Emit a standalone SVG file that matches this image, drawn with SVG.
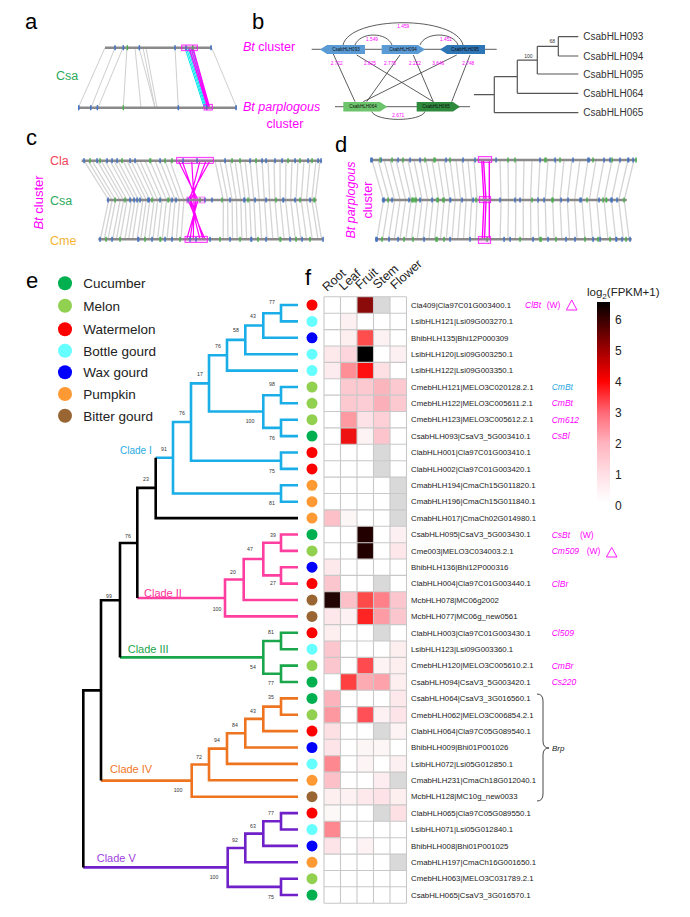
<svg xmlns="http://www.w3.org/2000/svg" width="690" height="917" viewBox="0 0 690 917">
<style>
text{font-family:"Liberation Sans",Arial,sans-serif}
.pl{font-size:22px;fill:#000}
.bar{stroke:#8a8a8a;stroke-width:2.6;fill:none}
.g{stroke:#c9c9c9;stroke-width:1.3;fill:none;opacity:.8}
.mg{stroke:#ff00ff;stroke-width:1.2;fill:none}
.box{stroke:#ff00ff;stroke-width:.8;fill:#ff00ff;fill-opacity:.12}
.tb{fill:#4472c4}
.tg{fill:#4caf50}
.bl{stroke:#333;stroke-width:.8;fill:none}
.num{font-size:4.8px;fill:#ff00ff;text-anchor:middle}
.gl{font-size:4.6px;fill:#111;text-anchor:middle}
.st{stroke:#555;stroke-width:1.2;fill:none}
.tl{font-size:10px;fill:#333}
.mag{fill:#ff00ff}
.cu{fill:#00b050}.me{fill:#92d050}.wa{fill:#ff0000}.bo{fill:#66ffff}.wx{fill:#0000ff}.pu{fill:#ff9933}.bi{fill:#996633}
.lg{font-size:13.5px;fill:#222}
.c1{stroke:#1aaee8}.c2{stroke:#ff3fa0}.c3{stroke:#1aa64a}.c4{stroke:#ee7420}.c5{stroke:#7020c8}.c0{stroke:#000}
.tr path{fill:none;stroke-width:2.6}
.bs{font-size:5.2px;fill:#333;text-anchor:middle}
.cl{font-size:11px}
.gn{font-size:7.8px;fill:#222}
.an{font-size:8.5px;fill:#ff00ff}
.hd{font-size:12.5px;fill:#222}
.cb{font-size:12px;fill:#222}
</style>
<defs>
<linearGradient id="cbar" x1="0" y1="0" x2="0" y2="1">
<stop offset="0" stop-color="#000000"/>
<stop offset="0.24" stop-color="#a00000"/>
<stop offset="0.395" stop-color="#ff0000"/>
<stop offset="0.555" stop-color="#ff6a78"/>
<stop offset="0.705" stop-color="#ffb3be"/>
<stop offset="0.865" stop-color="#ffe0e6"/>
<stop offset="1" stop-color="#ffffff"/>
</linearGradient>
</defs>
<rect width="690" height="917" fill="#fff"/>

<!-- panel labels -->
<g id="panel-letters">
<text class="pl" x="25" y="29">a</text>
<text class="pl" x="252" y="29">b</text>
<text class="pl" x="26" y="145">c</text>
<text class="pl" x="335" y="152">d</text>
<text class="pl" x="26" y="288">e</text>
<text class="pl" x="305" y="285">f</text>
</g>

<!-- panel a -->
<g id="panel-a">
<g class="g" style="stroke-width:1;opacity:.9">
<path d="M105 47.7L78.3 107.7M115 47.7L91 107.7M123 47.7L98 107.7M127 47.7L123.3 107.7M135 47.7L141 107.7M139 47.7L155 107.7M143 47.7L155 107.7M146 47.7L157 107.7M175 47.7L178.3 107.7M211.7 47.7L236.7 107.7"/>
</g>
<g style="stroke:#00e5ee;stroke-width:1;fill:none">
<path d="M185 48L204 107M186.5 48L205 107M188 48L206 107M189.5 48L207 107M191 48L208 107M192.5 48L208.5 107"/>
</g>
<path class="mg" d="M189 48L207.5 107M191 48L208.5 107M193 48L209.5 107"/>
<line class="bar" x1="105" y1="47.7" x2="211.7" y2="47.7"/>
<line class="bar" x1="78.3" y1="107.7" x2="236.7" y2="107.7"/>
<g class="tb">
<rect x="114.3" y="45.2" width="1.5" height="5"/><rect x="122.6" y="45.2" width="1.5" height="5"/><rect x="138.6" y="45.2" width="1.5" height="5"/><rect x="174.3" y="45.2" width="1.5" height="5"/><rect x="185.3" y="45.2" width="1.5" height="5"/><rect x="210.3" y="45.2" width="1.5" height="5"/>
<rect x="78" y="105.2" width="1.5" height="5"/><rect x="90" y="105.2" width="1.5" height="5"/><rect x="96.6" y="105.2" width="1.5" height="5"/><rect x="177.6" y="105.2" width="1.5" height="5"/><rect x="206" y="105.2" width="1.5" height="5"/><rect x="235.3" y="105.2" width="1.5" height="5"/>
</g>
<g class="tg">
<rect x="126.6" y="45.2" width="1.5" height="5"/><rect x="192" y="45.2" width="1.5" height="5"/><rect x="122.6" y="105.2" width="1.5" height="5"/>
</g>
<rect class="box" x="181.7" y="45" width="15.6" height="5.7"/>
<rect class="box" x="204" y="104.3" width="8.3" height="5.7"/>
<text x="56" y="80" style="font-size:12.5px;fill:#2eaa5e">Csa</text>
</g>

<!-- panel b -->
<g id="panel-b">
<text x="243" y="51" style="font-size:12.5px" class="mag"><tspan font-style="italic">Bt</tspan> cluster</text>
<text x="243" y="111" style="font-size:12.5px" class="mag"><tspan font-style="italic">Bt parplogous</tspan></text>
<text x="285" y="128" style="font-size:12.5px;text-anchor:middle" class="mag">cluster</text>
<line class="bl" x1="311.7" y1="49.3" x2="496.7" y2="49.3"/>
<line class="bl" x1="335" y1="106.7" x2="470" y2="106.7"/>
<path class="bl" d="M343 45C350 15.3 456 15.3 463 45"/>
<path class="bl" d="M355 45C360 31.7 387 31.7 392 45"/>
<path class="bl" d="M420 45C425 31.7 453 31.7 458 45"/>
<path class="bl" d="M371.7 111.5C376 122 421 122 425 111.5"/>
<path class="bl" d="M333.3 54L355 101.7M356.7 55L433.3 101.7M400 55L366.7 101.7M413.3 55L433.3 101.7M456.7 55L363.3 101.7M470 55L451.7 101.7"/>
<g id="gene-b1"><polygon points="320,49.5 327,45 365,45 365,54 327,54" fill="#5b9bd5"/><text class="gl" x="346" y="51.1">CsabHLH093</text></g>
<g id="gene-b2"><polygon points="381.7,45 418,45 425,49.5 418,54 381.7,54" fill="#5b9bd5"/><text class="gl" x="403" y="51.1">CsabHLH094</text></g>
<g id="gene-b3"><polygon points="440,49.5 447,45 485,45 485,54 447,54" fill="#2e75b6"/><text class="gl" x="465" y="51.1">CsabHLH095</text></g>
<g id="gene-b4"><polygon points="343.3,102 380,102 387.3,106.7 380,111.5 343.3,111.5" fill="#6cc46c"/><text class="gl" x="363" y="108.3">CsabHLH064</text></g>
<g id="gene-b5"><polygon points="416.7,102 453,102 460,106.7 453,111.5 416.7,111.5" fill="#2e8b3e"/><text class="gl" x="436" y="108.3">CsabHLH065</text></g>
<text class="num" x="403.3" y="28">1.459</text>
<text class="num" x="372" y="40.5">1.549</text>
<text class="num" x="446" y="40.5">1.451</text>
<text class="num" x="398.3" y="117">2.671</text>
<text class="num" x="336.7" y="64.5">2.722</text>
<text class="num" x="370" y="64.5">2.825</text>
<text class="num" x="390" y="64.5">2.775</text>
<text class="num" x="415" y="64.5">2.222</text>
<text class="num" x="438.3" y="64.5">3.646</text>
<text class="num" x="468.3" y="64.5">2.748</text>
<path class="st" d="M558.3 36.7H578.3M558.3 56H578.3M558.3 36.7V56M537.3 46.3H558.3M537.3 74H578.3M537.3 46.3V74M517.3 60.2H537.3M517.3 93.3H578.3M517.3 60.2V93.3M494.3 76.7H517.3M494.3 112.7H578.3M494.3 76.7V112.7M474 94.7H494.3"/>
<text class="bs" x="552.3" y="42.5" style="font-size:5px">68</text>
<text class="bs" x="528.3" y="57.5" style="font-size:5px">100</text>
<text class="tl" x="583.3" y="40.2">CsabHLH093</text>
<text class="tl" x="583.3" y="59.5">CsabHLH094</text>
<text class="tl" x="583.3" y="77.5">CsabHLH095</text>
<text class="tl" x="583.3" y="96.8">CsabHLH064</text>
<text class="tl" x="583.3" y="116.2">CsabHLH065</text>
</g>

<!-- panel c -->
<g id="panel-c">
<text x="50" y="164.5" style="font-size:12.5px;fill:#f0445a">Cla</text>
<text x="50" y="205" style="font-size:12.5px;fill:#2eaa5e">Csa</text>
<text x="50" y="245" style="font-size:12.5px;fill:#f5b335">Cme</text>
<text transform="translate(42.5,202.5) rotate(-90)" style="font-size:13px;text-anchor:middle" class="mag"><tspan font-style="italic">Bt</tspan> cluster</text>
<path class="g" d="M84 160.7L108.7 200L100.4 239.3M88 160.7L112.2 200L104.2 239.3M92 160.7L115.7 200L107.9 239.3M97 160.7L120.1 200L112.7 239.3M101 160.7L123.6 200L116.4 239.3M105 160.7L127.1 200L120.1 239.3M110 160.7L131.5 200L124.9 239.3M114 160.7L135 200L128.6 239.3M118 160.7L138.5 200L132.4 239.3M123 160.7L142.9 200L137.1 239.3M127 160.7L146.3 200L140.7 239.3M131 160.7L149.8 200L144.5 239.3M136 160.7L154.1 200L149 239.3M140 160.7L157.7 200L152.9 239.3M145 160.7L162.1 200L157.6 239.3M150 160.7L166.5 200L162.3 239.3M155 160.7L170.9 200L167 239.3M160 160.7L175.2 200L171.7 239.3M165 160.7L179.6 200L176.4 239.3M170 160.7L183.9 200L181 239.3M215 160.7L223.3 200L223.2 239.3M220 160.7L227.7 200L227.9 239.3M225 160.7L232.1 200L232.6 239.3M230 160.7L236.4 200L237.2 239.3M235 160.7L240.8 200L241.9 239.3M240 160.7L245.2 200L246.6 239.3M245 160.7L249.6 200L251.3 239.3M250 160.7L253.9 200L255.9 239.3M256 160.7L259.2 200L261.6 239.3M262 160.7L264.4 200L267.2 239.3M268 160.7L269.7 200L272.9 239.3M274 160.7L274.9 200L278.4 239.3M280 160.7L280.2 200L284.1 239.3M286 160.7L285.5 200L289.8 239.3M292 160.7L290.7 200L295.4 239.3M298 160.7L296 200L301 239.3M304 160.7L301.2 200L306.6 239.3M310 160.7L306.5 200L312.3 239.3M316 160.7L311.8 200L318 239.3M320 160.7L315.2 200L321.6 239.3"/>
<path class="mg" d="M178.3 160.7L198 200L186.7 239.3M191.7 160.7L194 200L193.3 239.3M200 160.7L190 200L200 239.3M210 160.7L188 200L205 239.3M182 160.7L196 200L190 239.3M206 160.7L191 200L203 239.3"/>
<line class="bar" x1="81.7" y1="160.7" x2="321.7" y2="160.7"/>
<line class="bar" x1="106.7" y1="200" x2="316.7" y2="200"/>
<line class="bar" x1="98.3" y1="239.3" x2="323.3" y2="239.3"/>
<g class="tb">
<rect x="83.3" y="158.2" width="1.5" height="5"/><rect x="96.3" y="158.2" width="1.5" height="5"/><rect x="106.3" y="158.2" width="1.5" height="5"/><rect x="111.3" y="158.2" width="1.5" height="5"/><rect x="116.3" y="158.2" width="1.5" height="5"/><rect x="129.3" y="158.2" width="1.5" height="5"/><rect x="134.3" y="158.2" width="1.5" height="5"/><rect x="159.3" y="158.2" width="1.5" height="5"/><rect x="182.3" y="158.2" width="1.5" height="5"/><rect x="196.3" y="158.2" width="1.5" height="5"/><rect x="224.3" y="158.2" width="1.5" height="5"/><rect x="249.3" y="158.2" width="1.5" height="5"/><rect x="261.3" y="158.2" width="1.5" height="5"/><rect x="265.3" y="158.2" width="1.5" height="5"/><rect x="274.3" y="158.2" width="1.5" height="5"/><rect x="281.3" y="158.2" width="1.5" height="5"/><rect x="294.3" y="158.2" width="1.5" height="5"/><rect x="307.3" y="158.2" width="1.5" height="5"/><rect x="317.3" y="158.2" width="1.5" height="5"/><rect x="320.3" y="158.2" width="1.5" height="5"/>
<rect x="107.3" y="197.5" width="1.5" height="5"/><rect x="129.3" y="197.5" width="1.5" height="5"/><rect x="133.3" y="197.5" width="1.5" height="5"/><rect x="136.3" y="197.5" width="1.5" height="5"/><rect x="139.3" y="197.5" width="1.5" height="5"/><rect x="147.3" y="197.5" width="2.5" height="5"/><rect x="159.3" y="197.5" width="1.5" height="5"/><rect x="171.3" y="197.5" width="1.5" height="5"/><rect x="175.3" y="197.5" width="1.5" height="5"/><rect x="187.3" y="197.5" width="1.5" height="5"/><rect x="204.3" y="197.5" width="1.5" height="5"/><rect x="211.3" y="197.5" width="1.5" height="5"/><rect x="229.3" y="197.5" width="1.5" height="5"/><rect x="243.3" y="197.5" width="2" height="5"/><rect x="254.3" y="197.5" width="1.5" height="5"/><rect x="265.3" y="197.5" width="1.5" height="5"/><rect x="282.3" y="197.5" width="2" height="5"/><rect x="294.3" y="197.5" width="1.5" height="5"/><rect x="309.3" y="197.5" width="1.5" height="5"/>
<rect x="99.3" y="236.8" width="1.5" height="5"/><rect x="111.3" y="236.8" width="1.5" height="5"/><rect x="137.3" y="236.8" width="2" height="5"/><rect x="151.3" y="236.8" width="1.5" height="5"/><rect x="164.3" y="236.8" width="1.5" height="5"/><rect x="171.3" y="236.8" width="1.5" height="5"/><rect x="189.3" y="236.8" width="1.5" height="5"/><rect x="195.3" y="236.8" width="1.5" height="5"/><rect x="209.3" y="236.8" width="1.5" height="5"/><rect x="229.3" y="236.8" width="1.5" height="5"/><rect x="250.3" y="236.8" width="2" height="5"/><rect x="265.3" y="236.8" width="1.5" height="5"/><rect x="289.3" y="236.8" width="1.5" height="5"/><rect x="301.3" y="236.8" width="1.5" height="5"/><rect x="322.3" y="236.8" width="1.5" height="5"/>
</g>
<g class="tg">
<rect x="89.3" y="158.2" width="1.5" height="5"/><rect x="99.3" y="158.2" width="1.5" height="5"/><rect x="121.3" y="158.2" width="1.5" height="5"/><rect x="149.3" y="158.2" width="2" height="5"/><rect x="164.3" y="158.2" width="1.5" height="5"/><rect x="171.3" y="158.2" width="1.5" height="5"/><rect x="231.3" y="158.2" width="1.5" height="5"/><rect x="239.3" y="158.2" width="1.5" height="5"/><rect x="255.3" y="158.2" width="1.5" height="5"/><rect x="287.3" y="158.2" width="1.5" height="5"/><rect x="299.3" y="158.2" width="1.5" height="5"/><rect x="311.3" y="158.2" width="1.5" height="5"/>
<rect x="114.3" y="197.5" width="1.5" height="5"/><rect x="124.3" y="197.5" width="1.5" height="5"/><rect x="151.3" y="197.5" width="1.5" height="5"/><rect x="167.3" y="197.5" width="2" height="5"/><rect x="199.3" y="197.5" width="1.5" height="5"/><rect x="221.3" y="197.5" width="1.5" height="5"/><rect x="247.3" y="197.5" width="1.5" height="5"/><rect x="275.3" y="197.5" width="1.5" height="5"/><rect x="299.3" y="197.5" width="1.5" height="5"/><rect x="313.3" y="197.5" width="2" height="5"/>
<rect x="105.3" y="236.8" width="1.5" height="5"/><rect x="119.3" y="236.8" width="1.5" height="5"/><rect x="144.3" y="236.8" width="1.5" height="5"/><rect x="159.3" y="236.8" width="2" height="5"/><rect x="179.3" y="236.8" width="1.5" height="5"/><rect x="219.3" y="236.8" width="1.5" height="5"/><rect x="239.3" y="236.8" width="1.5" height="5"/><rect x="257.3" y="236.8" width="1.5" height="5"/><rect x="279.3" y="236.8" width="2" height="5"/><rect x="295.3" y="236.8" width="1.5" height="5"/><rect x="309.3" y="236.8" width="1.5" height="5"/>
</g>
<rect class="box" x="176.7" y="157.3" width="36.6" height="6"/>
<rect class="box" x="186.7" y="197" width="18" height="6" style="stroke-opacity:.5"/>
<rect class="box" x="185" y="236.3" width="22.3" height="6"/>
</g>

<!-- panel d -->
<g id="panel-d">
<text transform="translate(355,200) rotate(-90)" style="font-size:12.5px;text-anchor:middle" class="mag"><tspan font-style="italic">Bt parplogous</tspan></text>
<text transform="translate(371.5,200) rotate(-90)" style="font-size:12.5px;text-anchor:middle" class="mag">cluster</text>
<path class="g" d="M372 160L383.5 200L376.9 239.3M378 160L389 200L382.6 239.3M384 160L394.6 200L388.5 239.3M390 160L400.1 200L394.3 239.3M396 160L405.6 200L400 239.3M402 160L411.1 200L405.8 239.3M408 160L416.6 200L411.6 239.3M414 160L422.1 200L417.3 239.3M420 160L427.6 200L423.1 239.3M426 160L433.1 200L428.9 239.3M432 160L438.7 200L434.7 239.3M438 160L444.2 200L440.5 239.3M444 160L449.7 200L446.3 239.3M450 160L455.2 200L452 239.3M456 160L460.7 200L457.8 239.3M462 160L466.2 200L463.5 239.3M468 160L471.7 200L469.3 239.3M474 160L477.2 200L475.1 239.3M500 160L501.1 200L500.1 239.3M508 160L508.5 200L507.9 239.3M516 160L515.8 200L515.5 239.3M524 160L523.2 200L523.3 239.3M532 160L530.5 200L530.9 239.3M540 160L537.9 200L538.7 239.3M548 160L545.2 200L546.3 239.3M556 160L552.6 200L554.1 239.3M564 160L560 200L561.8 239.3M572 160L567.3 200L569.5 239.3M580 160L574.6 200L577.1 239.3M588 160L582 200L584.9 239.3M596 160L589.3 200L592.5 239.3M604 160L596.7 200L600.3 239.3M612 160L604 200L607.9 239.3M620 160L611.4 200L615.7 239.3M628 160L618.7 200L623.3 239.3M634 160L624.2 200L629.1 239.3"/>
<path class="mg" style="stroke-width:1.4" d="M481.7 160L484 200L482.3 239.3M489.3 160L489.3 200L489.3 239.3M483.5 160L486 200L484.5 239.3"/>
<line class="bar" x1="370" y1="160" x2="636.7" y2="160"/>
<line class="bar" x1="381.7" y1="200" x2="626.7" y2="200"/>
<line class="bar" x1="375" y1="239.3" x2="631.7" y2="239.3"/>
<g class="tb">
<rect x="370.3" y="157.5" width="2.5" height="5"/><rect x="380.3" y="157.5" width="1.5" height="5"/><rect x="397.3" y="157.5" width="1.5" height="5"/><rect x="409.3" y="157.5" width="1.5" height="5"/><rect x="419.3" y="157.5" width="1.5" height="5"/><rect x="445.3" y="157.5" width="1.5" height="5"/><rect x="462.3" y="157.5" width="1.5" height="5"/><rect x="474.3" y="157.5" width="1.5" height="5"/><rect x="495.3" y="157.5" width="1.5" height="5"/><rect x="539.3" y="157.5" width="1.5" height="5"/><rect x="554.3" y="157.5" width="1.5" height="5"/><rect x="572.3" y="157.5" width="1.5" height="5"/><rect x="587.3" y="157.5" width="2.5" height="5"/><rect x="603.3" y="157.5" width="1.5" height="5"/><rect x="609.3" y="157.5" width="1.5" height="5"/><rect x="619.3" y="157.5" width="1.5" height="5"/><rect x="627.3" y="157.5" width="2" height="5"/><rect x="632.3" y="157.5" width="1.5" height="5"/>
<rect x="382.3" y="197.5" width="2.5" height="5"/><rect x="391.3" y="197.5" width="1.5" height="5"/><rect x="408.3" y="197.5" width="1.5" height="5"/><rect x="419.3" y="197.5" width="1.5" height="5"/><rect x="431.3" y="197.5" width="1.5" height="5"/><rect x="449.3" y="197.5" width="2" height="5"/><rect x="461.3" y="197.5" width="1.5" height="5"/><rect x="472.3" y="197.5" width="1.5" height="5"/><rect x="499.3" y="197.5" width="1.5" height="5"/><rect x="514.3" y="197.5" width="1.5" height="5"/><rect x="519.3" y="197.5" width="1.5" height="5"/><rect x="537.3" y="197.5" width="1.5" height="5"/><rect x="543.3" y="197.5" width="1.5" height="5"/><rect x="560.3" y="197.5" width="1.5" height="5"/><rect x="567.3" y="197.5" width="1.5" height="5"/><rect x="579.3" y="197.5" width="2.5" height="5"/><rect x="598.3" y="197.5" width="1.5" height="5"/><rect x="610.3" y="197.5" width="2.5" height="5"/><rect x="616.3" y="197.5" width="1.5" height="5"/>
<rect x="375.3" y="236.8" width="2.5" height="5"/><rect x="388.3" y="236.8" width="1.5" height="5"/><rect x="397.3" y="236.8" width="1.5" height="5"/><rect x="423.3" y="236.8" width="1.5" height="5"/><rect x="449.3" y="236.8" width="1.5" height="5"/><rect x="469.3" y="236.8" width="1.5" height="5"/><rect x="503.3" y="236.8" width="1.5" height="5"/><rect x="509.3" y="236.8" width="1.5" height="5"/><rect x="532.3" y="236.8" width="1.5" height="5"/><rect x="547.3" y="236.8" width="1.5" height="5"/><rect x="565.3" y="236.8" width="1.5" height="5"/><rect x="574.3" y="236.8" width="1.5" height="5"/><rect x="592.3" y="236.8" width="1.5" height="5"/><rect x="599.3" y="236.8" width="1.5" height="5"/><rect x="615.3" y="236.8" width="2" height="5"/><rect x="621.3" y="236.8" width="1.5" height="5"/><rect x="629.3" y="236.8" width="1.5" height="5"/>
</g>
<g class="tg">
<rect x="379.3" y="157.5" width="1.5" height="5"/><rect x="391.3" y="157.5" width="1.5" height="5"/><rect x="402.3" y="157.5" width="1.5" height="5"/><rect x="424.3" y="157.5" width="1.5" height="5"/><rect x="433.3" y="157.5" width="2.5" height="5"/><rect x="449.3" y="157.5" width="1.5" height="5"/><rect x="507.3" y="157.5" width="1.5" height="5"/><rect x="514.3" y="157.5" width="1.5" height="5"/><rect x="544.3" y="157.5" width="2.5" height="5"/><rect x="559.3" y="157.5" width="1.5" height="5"/><rect x="592.3" y="157.5" width="1.5" height="5"/><rect x="611.3" y="157.5" width="1.5" height="5"/><rect x="635.3" y="157.5" width="1.5" height="5"/>
<rect x="387.3" y="197.5" width="1.5" height="5"/><rect x="411.3" y="197.5" width="2.5" height="5"/><rect x="414.3" y="197.5" width="2.5" height="5"/><rect x="436.3" y="197.5" width="2.5" height="5"/><rect x="442.3" y="197.5" width="2.5" height="5"/><rect x="475.3" y="197.5" width="1.5" height="5"/><rect x="531.3" y="197.5" width="1.5" height="5"/><rect x="551.3" y="197.5" width="2.5" height="5"/><rect x="586.3" y="197.5" width="1.5" height="5"/><rect x="602.3" y="197.5" width="1.5" height="5"/><rect x="605.3" y="197.5" width="2" height="5"/><rect x="623.3" y="197.5" width="1.5" height="5"/>
<rect x="381.3" y="236.8" width="1.5" height="5"/><rect x="403.3" y="236.8" width="1.5" height="5"/><rect x="412.3" y="236.8" width="1.5" height="5"/><rect x="435.3" y="236.8" width="2.5" height="5"/><rect x="443.3" y="236.8" width="1.5" height="5"/><rect x="486.3" y="236.8" width="1.5" height="5"/><rect x="519.3" y="236.8" width="1.5" height="5"/><rect x="539.3" y="236.8" width="2.5" height="5"/><rect x="555.3" y="236.8" width="1.5" height="5"/><rect x="584.3" y="236.8" width="1.5" height="5"/><rect x="597.3" y="236.8" width="1.5" height="5"/><rect x="609.3" y="236.8" width="1.5" height="5"/><rect x="625.3" y="236.8" width="1.5" height="5"/>
</g>
<rect class="box" x="478.3" y="156.7" width="13.4" height="5.6"/>
<rect class="box" x="479.3" y="196.7" width="11.4" height="6"/>
<rect class="box" x="478.3" y="236.7" width="12.4" height="6.6"/>
</g>

<!-- panel e legend -->
<g id="legend">
<circle class="cu" cx="65" cy="283.3" r="7"/><text class="lg" x="83.3" y="288.3">Cucumber</text>
<circle class="me" cx="65" cy="305.7" r="7"/><text class="lg" x="83.3" y="310.7">Melon</text>
<circle class="wa" cx="65" cy="329.3" r="7"/><text class="lg" x="83.3" y="334.3">Watermelon</text>
<circle class="bo" cx="65" cy="350.7" r="7"/><text class="lg" x="83.3" y="355.7">Bottle gourd</text>
<circle class="wx" cx="65" cy="372.3" r="7"/><text class="lg" x="83.3" y="377.3">Wax gourd</text>
<circle class="pu" cx="65" cy="394" r="7"/><text class="lg" x="83.3" y="399">Pumpkin</text>
<circle class="bi" cx="65" cy="415.7" r="7"/><text class="lg" x="83.3" y="420.7">Bitter gourd</text>
</g>

<!-- tree -->
<g id="tree" class="tr">
<path class="c1" d="M298 305H281V321.4H298M281 313.2H263.3V337.8H298M263.3 325.5H245.3V354.2H298M245.3 339.9H227V370.6H298M298 387H281V403.3H298M298 419.7H281V436.1H298M281 395.2H263.3V427.9H281M227 355.3H209V411.5H263.3M298 452.5H281V468.9H298M209 383.4H191V460.7H281M298 485.3H281V501.7H298M191 422H173V493.5H281M173 457.8H155.7"/>
<path class="c2" d="M298 534.5H281V550.9H298M298 567.2H281V583.6H298M281 542.7H263.3V575.4H281M263.3 559H243.7V600H298M243.7 579.5H225V616.4H298M225 598H137.3"/>
<path class="c3" d="M298 632.8H281V649.2H298M298 665.6H281V682H298M281 641H263.3V673.8H281M263.3 657.4H120"/>
<path class="c4" d="M298 698.4H281V714.8H298M281 706.6H263.3V731.1H298M263.3 718.9H245.3V747.5H298M245.3 733.2H227V763.9H298M227 748.6H209V780.3H298M209 764.5H191.7V796.7H298M191.7 780.6H101"/>
<path class="c5" d="M298 813.1H281V829.5H298M281 821.3H263.3V845.9H298M263.3 833.6H245.3V862.3H298M298 878.7H281V895H298M245.3 848H227.7V886.9H281M227.7 867.4H83.3"/>
<path class="c0" d="M155.7 457.8V518.1H298M155.7 487.9H137.3V598M137.3 543H120V657.4M120 600.2H101V780.6M101 690.4H83.3V867.4"/>
</g>
<g id="bootstrap">
<text class="bs" x="272" y="304">77</text><text class="bs" x="253" y="318">43</text><text class="bs" x="236" y="332">58</text><text class="bs" x="218" y="348">76</text><text class="bs" x="200" y="376">17</text><text class="bs" x="272" y="386">98</text><text class="bs" x="250" y="423">100</text><text class="bs" x="272" y="440">76</text><text class="bs" x="182" y="415">76</text><text class="bs" x="272" y="473">75</text><text class="bs" x="272" y="505">81</text><text class="bs" x="164" y="451">91</text><text class="bs" x="146" y="481">23</text>
<text class="bs" x="273" y="537">39</text><text class="bs" x="273" y="585">27</text><text class="bs" x="250" y="551">47</text><text class="bs" x="233" y="574">20</text><text class="bs" x="217" y="611">100</text><text class="bs" x="128" y="538">76</text>
<text class="bs" x="271" y="634">81</text><text class="bs" x="271" y="685">77</text><text class="bs" x="253" y="669">54</text><text class="bs" x="109" y="598">99</text>
<text class="bs" x="271" y="699">35</text><text class="bs" x="253" y="713">43</text><text class="bs" x="235" y="727">84</text><text class="bs" x="217" y="742">94</text><text class="bs" x="199" y="759">72</text><text class="bs" x="178" y="792">100</text>
<text class="bs" x="271" y="815">77</text><text class="bs" x="253" y="828">63</text><text class="bs" x="235" y="842">92</text><text class="bs" x="214" y="879">100</text><text class="bs" x="271" y="899">75</text>
</g>
<g id="clade-labels">
<text class="cl" x="120" y="454" style="fill:#29abe2;font-size:10px">Clade I</text>
<text class="cl" x="144" y="597" style="fill:#ff3399">Clade II</text>
<text class="cl" x="127.7" y="652.7" style="fill:#1aa64a">Clade III</text>
<text class="cl" x="110" y="773.3" style="fill:#f07828">Clade IV</text>
<text class="cl" x="96.7" y="861.7" style="fill:#a040e0">Clade V</text>
</g>

<!-- species dots -->
<g id="species-dots">
<circle class="wa" cx="312" cy="305" r="5.5"/><circle class="bo" cx="312" cy="321.4" r="5.5"/><circle class="wx" cx="312" cy="337.8" r="5.5"/><circle class="bo" cx="312" cy="354.2" r="5.5"/><circle class="bo" cx="312" cy="370.6" r="5.5"/><circle class="me" cx="312" cy="387" r="5.5"/><circle class="me" cx="312" cy="403.3" r="5.5"/><circle class="me" cx="312" cy="419.7" r="5.5"/><circle class="cu" cx="312" cy="436.1" r="5.5"/><circle class="wa" cx="312" cy="452.5" r="5.5"/><circle class="wa" cx="312" cy="468.9" r="5.5"/><circle class="pu" cx="312" cy="485.3" r="5.5"/><circle class="pu" cx="312" cy="501.7" r="5.5"/><circle class="pu" cx="312" cy="518.1" r="5.5"/>
<circle class="cu" cx="312" cy="534.5" r="5.5"/><circle class="me" cx="312" cy="550.9" r="5.5"/><circle class="wx" cx="312" cy="567.2" r="5.5"/><circle class="wa" cx="312" cy="583.6" r="5.5"/><circle class="bi" cx="312" cy="600" r="5.5"/><circle class="bi" cx="312" cy="616.4" r="5.5"/>
<circle class="wa" cx="312" cy="632.8" r="5.5"/><circle class="bo" cx="312" cy="649.2" r="5.5"/><circle class="me" cx="312" cy="665.6" r="5.5"/><circle class="cu" cx="312" cy="682" r="5.5"/>
<circle class="cu" cx="312" cy="698.4" r="5.5"/><circle class="me" cx="312" cy="714.8" r="5.5"/><circle class="wa" cx="312" cy="731.1" r="5.5"/><circle class="wx" cx="312" cy="747.5" r="5.5"/><circle class="bo" cx="312" cy="763.9" r="5.5"/><circle class="pu" cx="312" cy="780.3" r="5.5"/><circle class="bi" cx="312" cy="796.7" r="5.5"/>
<circle class="wa" cx="312" cy="813.1" r="5.5"/><circle class="bo" cx="312" cy="829.5" r="5.5"/><circle class="wx" cx="312" cy="845.9" r="5.5"/><circle class="pu" cx="312" cy="862.3" r="5.5"/><circle class="me" cx="312" cy="878.7" r="5.5"/><circle class="cu" cx="312" cy="895" r="5.5"/>
</g>

<!-- heatmap -->
<g id="heatmap">
<text class="hd" transform="translate(327,292) rotate(-42)">Root</text>
<text class="hd" transform="translate(343.5,291) rotate(-42)">Leaf</text>
<text class="hd" transform="translate(360,290) rotate(-42)">Fruit</text>
<text class="hd" transform="translate(377.5,289.5) rotate(-42)">Stem</text>
<text class="hd" transform="translate(395,290) rotate(-42)">Flower</text>
<rect x="324" y="296.8" width="82.5" height="606.4" fill="#fff"/>
<g id="cells">
<rect x="357" y="296.8" width="16.5" height="16.4" fill="#8b0a0a"/><rect x="373.5" y="296.8" width="16.5" height="16.4" fill="#d9d9d9"/>
<rect x="340.5" y="313.2" width="16.5" height="16.4" fill="#fdf0f2"/>
<rect x="340.5" y="329.6" width="16.5" height="16.4" fill="#fdeef0"/><rect x="357" y="329.6" width="16.5" height="16.4" fill="#ff4d4d"/><rect x="373.5" y="329.6" width="16.5" height="16.4" fill="#fdf2f3"/>
<rect x="324" y="346" width="16.5" height="16.4" fill="#fde9ec"/><rect x="340.5" y="346" width="16.5" height="16.4" fill="#fcd6dc"/><rect x="357" y="346" width="16.5" height="16.4" fill="#000"/><rect x="390" y="346" width="16.5" height="16.4" fill="#fdf0f2"/>
<rect x="324" y="362.4" width="16.5" height="16.4" fill="#fdecef"/><rect x="340.5" y="362.4" width="16.5" height="16.4" fill="#fe8f96"/><rect x="357" y="362.4" width="16.5" height="16.4" fill="#ff1010"/><rect x="373.5" y="362.4" width="16.5" height="16.4" fill="#fde0e4"/>
<rect x="340.5" y="378.8" width="16.5" height="16.4" fill="#fcc9d1"/><rect x="357" y="378.8" width="16.5" height="16.4" fill="#fcc9d1"/><rect x="373.5" y="378.8" width="16.5" height="16.4" fill="#fbb5bd"/><rect x="390" y="378.8" width="16.5" height="16.4" fill="#fcc9d1"/>
<rect x="340.5" y="395.1" width="16.5" height="16.4" fill="#fcc9d1"/><rect x="357" y="395.1" width="16.5" height="16.4" fill="#fccdd4"/><rect x="373.5" y="395.1" width="16.5" height="16.4" fill="#fbb0b9"/><rect x="390" y="395.1" width="16.5" height="16.4" fill="#fcc9d1"/>
<rect x="340.5" y="411.5" width="16.5" height="16.4" fill="#fd9aa2"/><rect x="357" y="411.5" width="16.5" height="16.4" fill="#fde3e7"/><rect x="373.5" y="411.5" width="16.5" height="16.4" fill="#fcd0d6"/>
<rect x="340.5" y="427.9" width="16.5" height="16.4" fill="#ee1212"/><rect x="357" y="427.9" width="16.5" height="16.4" fill="#fdf2f4"/><rect x="373.5" y="427.9" width="16.5" height="16.4" fill="#fcc5cd"/>
<rect x="373.5" y="444.3" width="16.5" height="16.4" fill="#d9d9d9"/>
<rect x="373.5" y="460.7" width="16.5" height="16.4" fill="#d9d9d9"/>
<rect x="390" y="477.1" width="16.5" height="16.4" fill="#d9d9d9"/>
<rect x="390" y="493.5" width="16.5" height="16.4" fill="#d9d9d9"/>
<rect x="324" y="509.9" width="16.5" height="16.4" fill="#fcc0c8"/><rect x="340.5" y="509.9" width="16.5" height="16.4" fill="#fdf6f7"/><rect x="390" y="509.9" width="16.5" height="16.4" fill="#d9d9d9"/>
<rect x="357" y="526.3" width="16.5" height="16.4" fill="#220000"/><rect x="390" y="526.3" width="16.5" height="16.4" fill="#fdf0f2"/>
<rect x="357" y="542.7" width="16.5" height="16.4" fill="#220000"/><rect x="390" y="542.7" width="16.5" height="16.4" fill="#fde7eb"/>
<rect x="324" y="559" width="16.5" height="16.4" fill="#fde9ec"/>
<rect x="324" y="575.4" width="16.5" height="16.4" fill="#fcc6ce"/><rect x="373.5" y="575.4" width="16.5" height="16.4" fill="#d9d9d9"/>
<rect x="324" y="591.8" width="16.5" height="16.4" fill="#220404"/><rect x="340.5" y="591.8" width="16.5" height="16.4" fill="#fcc0c8"/><rect x="357" y="591.8" width="16.5" height="16.4" fill="#ff4a4a"/><rect x="373.5" y="591.8" width="16.5" height="16.4" fill="#ff8088"/><rect x="390" y="591.8" width="16.5" height="16.4" fill="#fcc6ce"/>
<rect x="324" y="608.2" width="16.5" height="16.4" fill="#fde7eb"/><rect x="340.5" y="608.2" width="16.5" height="16.4" fill="#fdf1f3"/><rect x="357" y="608.2" width="16.5" height="16.4" fill="#ff2424"/><rect x="373.5" y="608.2" width="16.5" height="16.4" fill="#fd9ca4"/><rect x="390" y="608.2" width="16.5" height="16.4" fill="#fcc6ce"/>
<rect x="324" y="624.6" width="16.5" height="16.4" fill="#fdeef0"/><rect x="373.5" y="624.6" width="16.5" height="16.4" fill="#d9d9d9"/>
<rect x="324" y="641" width="16.5" height="16.4" fill="#fcc6ce"/><rect x="390" y="641" width="16.5" height="16.4" fill="#fdeef0"/>
<rect x="324" y="657.4" width="16.5" height="16.4" fill="#fcc6ce"/><rect x="357" y="657.4" width="16.5" height="16.4" fill="#ff4a50"/><rect x="373.5" y="657.4" width="16.5" height="16.4" fill="#fdf2f4"/><rect x="390" y="657.4" width="16.5" height="16.4" fill="#fdeef0"/>
<rect x="340.5" y="673.8" width="16.5" height="16.4" fill="#ff4040"/><rect x="357" y="673.8" width="16.5" height="16.4" fill="#fdabb2"/><rect x="373.5" y="673.8" width="16.5" height="16.4" fill="#fda2aa"/><rect x="390" y="673.8" width="16.5" height="16.4" fill="#fdeef0"/>
<rect x="324" y="690.2" width="16.5" height="16.4" fill="#fcb3bb"/><rect x="390" y="690.2" width="16.5" height="16.4" fill="#fde9ec"/>
<rect x="324" y="706.6" width="16.5" height="16.4" fill="#fd98a0"/><rect x="357" y="706.6" width="16.5" height="16.4" fill="#ff5058"/><rect x="373.5" y="706.6" width="16.5" height="16.4" fill="#fdf1f3"/><rect x="390" y="706.6" width="16.5" height="16.4" fill="#fde4e8"/>
<rect x="324" y="722.9" width="16.5" height="16.4" fill="#fde0e4"/><rect x="373.5" y="722.9" width="16.5" height="16.4" fill="#d9d9d9"/><rect x="390" y="722.9" width="16.5" height="16.4" fill="#fdf3f5"/>
<rect x="324" y="739.3" width="16.5" height="16.4" fill="#fde4e8"/><rect x="357" y="739.3" width="16.5" height="16.4" fill="#fdf6f7"/><rect x="373.5" y="739.3" width="16.5" height="16.4" fill="#fdf6f7"/>
<rect x="324" y="755.7" width="16.5" height="16.4" fill="#fd8890"/><rect x="357" y="755.7" width="16.5" height="16.4" fill="#fdf4f5"/><rect x="390" y="755.7" width="16.5" height="16.4" fill="#fdf0f2"/>
<rect x="324" y="772.1" width="16.5" height="16.4" fill="#fcc0c8"/><rect x="373.5" y="772.1" width="16.5" height="16.4" fill="#fdedf0"/><rect x="390" y="772.1" width="16.5" height="16.4" fill="#d9d9d9"/>
<rect x="324" y="788.5" width="16.5" height="16.4" fill="#fdeef0"/><rect x="340.5" y="788.5" width="16.5" height="16.4" fill="#fdf1f3"/><rect x="357" y="788.5" width="16.5" height="16.4" fill="#fde8ec"/><rect x="373.5" y="788.5" width="16.5" height="16.4" fill="#fde3e7"/><rect x="390" y="788.5" width="16.5" height="16.4" fill="#fdeef0"/>
<rect x="324" y="804.9" width="16.5" height="16.4" fill="#fdf8f8"/><rect x="373.5" y="804.9" width="16.5" height="16.4" fill="#d9d9d9"/><rect x="390" y="804.9" width="16.5" height="16.4" fill="#fde0e4"/>
<rect x="324" y="821.3" width="16.5" height="16.4" fill="#fd8890"/>
<rect x="324" y="837.7" width="16.5" height="16.4" fill="#fde4e8"/><rect x="357" y="837.7" width="16.5" height="16.4" fill="#fdf3f5"/>
<rect x="390" y="854.1" width="16.5" height="16.4" fill="#d9d9d9"/>
</g>
<path id="grid" fill="none" stroke="#c8c8c8" stroke-width="1.1" d="M324 296.8V903.2M340.5 296.8V903.2M357 296.8V903.2M373.5 296.8V903.2M390 296.8V903.2M406.5 296.8V903.2M324 296.8H406.5M324 313.2H406.5M324 329.6H406.5M324 346H406.5M324 362.4H406.5M324 378.8H406.5M324 395.1H406.5M324 411.5H406.5M324 427.9H406.5M324 444.3H406.5M324 460.7H406.5M324 477.1H406.5M324 493.5H406.5M324 509.9H406.5M324 526.3H406.5M324 542.7H406.5M324 559H406.5M324 575.4H406.5M324 591.8H406.5M324 608.2H406.5M324 624.6H406.5M324 641H406.5M324 657.4H406.5M324 673.8H406.5M324 690.2H406.5M324 706.6H406.5M324 722.9H406.5M324 739.3H406.5M324 755.7H406.5M324 772.1H406.5M324 788.5H406.5M324 804.9H406.5M324 821.3H406.5M324 837.7H406.5M324 854.1H406.5M324 870.5H406.5M324 886.8H406.5M324 903.2H406.5"/>
</g>

<!-- gene labels -->
<g id="gene-labels">
<text class="gn" x="411" y="307.7">Cla409|Cla97C01G003400.1</text>
<text class="gn" x="411" y="324.1">LsibHLH121|Lsi09G003270.1</text>
<text class="gn" x="411" y="340.5">BhibHLH135|Bhi12P000309</text>
<text class="gn" x="411" y="356.9">LsibHLH120|Lsi09G003250.1</text>
<text class="gn" x="411" y="373.3">LsibHLH122|Lsi09G003350.1</text>
<text class="gn" x="411" y="389.7">CmebHLH121|MELO3C020128.2.1</text>
<text class="gn" x="411" y="406">CmebHLH122|MELO3C005611.2.1</text>
<text class="gn" x="411" y="422.4">CmebHLH123|MELO3C005612.2.1</text>
<text class="gn" x="411" y="438.8">CsabHLH093|CsaV3_5G003410.1</text>
<text class="gn" x="411" y="455.2">ClabHLH001|Cla97C01G003410.1</text>
<text class="gn" x="411" y="471.6">ClabHLH002|Cla97C01G003420.1</text>
<text class="gn" x="411" y="488">CmabHLH194|CmaCh15G011820.1</text>
<text class="gn" x="411" y="504.4">CmabHLH196|CmaCh15G011840.1</text>
<text class="gn" x="411" y="520.8">CmabHLH017|CmaCh02G014980.1</text>
<text class="gn" x="411" y="537.2">CsabHLH095|CsaV3_5G003430.1</text>
<text class="gn" x="411" y="553.6">Cme003|MELO3C034003.2.1</text>
<text class="gn" x="411" y="569.9">BhibHLH136|Bhi12P000316</text>
<text class="gn" x="411" y="586.3">ClabHLH004|Cla97C01G003440.1</text>
<text class="gn" x="411" y="602.7">McbHLH078|MC06g2002</text>
<text class="gn" x="411" y="619.1">McbHLH077|MC06g_new0561</text>
<text class="gn" x="411" y="635.5">ClabHLH003|Cla97C01G003430.1</text>
<text class="gn" x="411" y="651.9">LsibHLH123|Lsi09G003360.1</text>
<text class="gn" x="411" y="668.3">CmebHLH120|MELO3C005610.2.1</text>
<text class="gn" x="411" y="684.7">CsabHLH094|CsaV3_5G003420.1</text>
<text class="gn" x="411" y="701.1">CsabHLH064|CsaV3_3G016560.1</text>
<text class="gn" x="411" y="717.5">CmebHLH062|MELO3C006854.2.1</text>
<text class="gn" x="411" y="733.8">ClabHLH064|Cla97C05G089540.1</text>
<text class="gn" x="411" y="750.2">BhibHLH009|Bhi01P001026</text>
<text class="gn" x="411" y="766.6">LsibHLH072|Lsi05G012850.1</text>
<text class="gn" x="411" y="783">CmabHLH231|CmaCh18G012040.1</text>
<text class="gn" x="411" y="799.4">McbHLH128|MC10g_new0033</text>
<text class="gn" x="411" y="815.8">ClabHLH065|Cla97C05G089550.1</text>
<text class="gn" x="411" y="832.2">LsibHLH071|Lsi05G012840.1</text>
<text class="gn" x="411" y="848.6">BhibHLH008|Bhi01P001025</text>
<text class="gn" x="411" y="865">CmabHLH197|CmaCh16G001650.1</text>
<text class="gn" x="411" y="881.4">CmebHLH063|MELO3C031789.2.1</text>
<text class="gn" x="411" y="897.7">CsabHLH065|CsaV3_3G016570.1</text>
</g>

<!-- annotations -->
<g id="annotations">
<text class="an" y="308"><tspan x="525" font-style="italic">ClBt</tspan><tspan x="546.7">(W)</tspan></text>
<polygon points="571.7,300 577,310 566.4,310" fill="none" stroke="#ff00ff" stroke-width="0.9"/>
<text class="an" x="551.7" y="390" font-style="italic" style="fill:#29a9e0">CmBt</text>
<text class="an" x="551.7" y="406.3" font-style="italic">CmBt</text>
<text class="an" x="551.7" y="422.7" font-style="italic">Cm612</text>
<text class="an" x="551.7" y="439.1" font-style="italic">CsBl</text>
<text class="an" y="537.5"><tspan x="551.7" font-style="italic">CsBt</tspan><tspan x="580">(W)</tspan></text>
<text class="an" y="553.9"><tspan x="551.7" font-style="italic">Cm509</tspan><tspan x="586.7">(W)</tspan></text>
<polygon points="611.7,547.5 617,557 606.4,557" fill="none" stroke="#ff00ff" stroke-width="0.9"/>
<text class="an" x="551.7" y="586.6" font-style="italic">ClBr</text>
<text class="an" x="551.7" y="635.8" font-style="italic">Cl509</text>
<text class="an" x="551.7" y="668.6" font-style="italic">CmBr</text>
<text class="an" x="551.7" y="685" font-style="italic">Cs220</text>
<path d="M537 694Q543 694 543 701V741Q543 748 549 748Q543 748 543 755V794Q543 801 537 801" fill="none" stroke="#333" stroke-width="0.9"/>
<text x="552" y="751" font-style="italic" style="font-size:8px;fill:#222">Brp</text>
</g>

<!-- color bar -->
<g id="colorbar">
<text x="587" y="296" style="font-size:11.5px;fill:#222">log<tspan dy="3" style="font-size:8px">2</tspan><tspan dy="-3">(FPKM+1)</tspan></text>
<rect x="597" y="302" width="13" height="200" fill="url(#cbar)"/>
<text class="cb" x="615" y="324">6</text>
<text class="cb" x="615" y="354.5">5</text>
<text class="cb" x="615" y="386">4</text>
<text class="cb" x="615" y="417">3</text>
<text class="cb" x="615" y="447.5">2</text>
<text class="cb" x="615" y="479">1</text>
<text class="cb" x="615" y="510">0</text>
</g>
</svg>
